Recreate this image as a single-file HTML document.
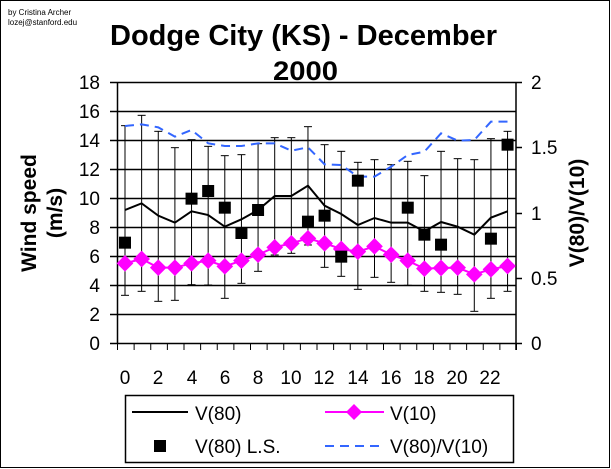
<!DOCTYPE html><html><head><style>body{margin:0;background:#fff}svg{display:block;font-family:"Liberation Sans",Arial,sans-serif}</style></head><body>
<svg width="611" height="469" viewBox="0 0 611 469">
<rect x="0.5" y="0.5" width="609" height="467" fill="#fff" stroke="#000"/>
<text x="8" y="15" font-size="8">by Cristina Archer</text>
<text x="8" y="25" font-size="8">lozej@stanford.edu</text>
<text x="110" y="45" font-size="29" font-weight="bold" textLength="387" lengthAdjust="spacingAndGlyphs">Dodge City (KS) - December</text>
<text x="273" y="80" font-size="27" font-weight="bold" textLength="65" lengthAdjust="spacingAndGlyphs">2000</text>
<g stroke="#000" stroke-width="1.5">
<line x1="110" y1="82.5" x2="516" y2="82.5"/><line x1="110" y1="111.5" x2="516" y2="111.5"/><line x1="110" y1="140.5" x2="516" y2="140.5"/><line x1="110" y1="169.5" x2="516" y2="169.5"/><line x1="110" y1="198.5" x2="516" y2="198.5"/><line x1="110" y1="227.5" x2="516" y2="227.5"/><line x1="110" y1="256.5" x2="516" y2="256.5"/><line x1="110" y1="285.5" x2="516" y2="285.5"/><line x1="110" y1="314.5" x2="516" y2="314.5"/><line x1="110" y1="343.5" x2="516" y2="343.5"/>
<line x1="117.5" y1="82" x2="117.5" y2="343"/><line x1="516" y1="82" x2="516" y2="350"/>
<line x1="516" y1="82.5" x2="522" y2="82.5"/><line x1="516" y1="147.5" x2="522" y2="147.5"/><line x1="516" y1="213.5" x2="522" y2="213.5"/><line x1="516" y1="278.5" x2="522" y2="278.5"/><line x1="516" y1="343.5" x2="522" y2="343.5"/>
</g>
<g id="xt" stroke="#000" stroke-width="1"></g>
<g font-size="19" text-anchor="end"><text x="100" y="89">18</text><text x="100" y="118">16</text><text x="100" y="147">14</text><text x="100" y="176">12</text><text x="100" y="205">10</text><text x="100" y="234">8</text><text x="100" y="263">6</text><text x="100" y="292">4</text><text x="100" y="321">2</text><text x="100" y="350">0</text></g>
<g font-size="19"><text x="531" y="89">2</text><text x="531" y="154">1.5</text><text x="531" y="220">1</text><text x="531" y="285">0.5</text><text x="531" y="350">0</text></g>
<g font-size="19" text-anchor="middle"><text x="125" y="384">0</text><text x="158" y="384">2</text><text x="192" y="384">4</text><text x="225" y="384">6</text><text x="258" y="384">8</text><text x="291" y="384">10</text><text x="324" y="384">12</text><text x="358" y="384">14</text><text x="391" y="384">16</text><text x="424" y="384">18</text><text x="457" y="384">20</text><text x="490" y="384">22</text></g>
<text transform="translate(36,213) rotate(-90)" font-size="21" font-weight="bold" text-anchor="middle">Wind speed</text>
<text transform="translate(62,213) rotate(-90)" font-size="21" font-weight="bold" text-anchor="middle">(m/s)</text>
<text transform="translate(584,213) rotate(-90)" font-size="21" font-weight="bold" text-anchor="middle">V(80)/V(10)</text>
<g transform="translate(100,70) scale(0.33333)" id="d"></g>
<rect x="125.5" y="395.5" width="388" height="67" fill="none" stroke="#000" stroke-width="1.5"/>
<line x1="132" y1="412" x2="188" y2="412" stroke="#000" stroke-width="2"/>
<text x="195" y="420" font-size="19">V(80)</text>
<line x1="325" y1="412" x2="384" y2="412" stroke="#f0f" stroke-width="2"/>
<polygon points="354,404 362,412 354,420 346,412" fill="#f0f"/>
<text x="390" y="420" font-size="19">V(10)</text>
<rect x="154" y="440" width="12" height="12" fill="#000"/>
<text x="195" y="453" font-size="19">V(80) L.S.</text>
<line x1="325" y1="446" x2="382" y2="446" stroke="#3366ff" stroke-width="2" stroke-dasharray="9,6"/>
<text x="390" y="453" font-size="19">V(80)/V(10)</text>
</svg>
<script>
var ns="http://www.w3.org/2000/svg";
function el(p,n,a){var e=document.createElementNS(ns,n);for(var k in a)e.setAttribute(k,a[k]);p.appendChild(e);return e;}
var xt=document.getElementById('xt');
for(var i=0;i<=24;i++){var x=117.5+16.625*i;el(xt,'line',{x1:x,y1:343,x2:x,y2:350});}
var d=document.getElementById('d');
function X(i){return 75+49.9*i;}
var err=[[167,676],[136,664],[184,694],[233,691],[209,644],[229,645],[257,685],[254,640],[221,604],[203,555],[203,550],[170,525],[224,592],[244,619],[277,658],[269,622],[284,637],[274,646],[317,664],[244,667],[266,673],[269,724],[206,685],[184,664]];
err.forEach(function(e,i){var x=X(i);el(d,'line',{x1:x,y1:e[0],x2:x,y2:e[1],stroke:'#000','stroke-width':3});el(d,'line',{x1:x-12,y1:e[0],x2:x+12,y2:e[0],stroke:'#000','stroke-width':3});el(d,'line',{x1:x-12,y1:e[1],x2:x+12,y2:e[1],stroke:'#000','stroke-width':3});});
var blue=[168,163,172,200,180,220,228,228,220,220,242,232,283,285,320,320,290,255,245,190,212,210,155,155];
el(d,'polyline',{points:blue.map(function(y,i){return X(i)+','+y}).join(' '),fill:'none',stroke:'#3366ff','stroke-width':6,'stroke-dasharray':'27,18'});
var blk=[420,400,437,458,424,435,470,448,420,378,378,347,407,432,465,444,458,458,484,456,470,494,443,424];
el(d,'polyline',{points:blk.map(function(y,i){return X(i)+','+y}).join(' '),fill:'none',stroke:'#000','stroke-width':6});
var mg=[580,567,593,593,580,572,589,572,554,532,520,505,520,537,545,529,554,572,596,594,593,613,598,588];
el(d,'polyline',{points:mg.map(function(y,i){return X(i)+','+y}).join(' '),fill:'none',stroke:'#f0f','stroke-width':6});
mg.forEach(function(y,i){var x=X(i);el(d,'polygon',{points:(x)+','+(y-25)+' '+(x+25)+','+y+' '+x+','+(y+25)+' '+(x-25)+','+y,fill:'#f0f'});});
var sq={0:518,4:386,5:363,6:413,7:489,8:420,11:455,12:437,13:560,14:332,17:413,18:494,19:524,22:506,23:224};
for(var k in sq){el(d,'rect',{x:X(+k)-18,y:sq[k]-18,width:36,height:36,fill:'#000'});}
</script>
</body></html>
